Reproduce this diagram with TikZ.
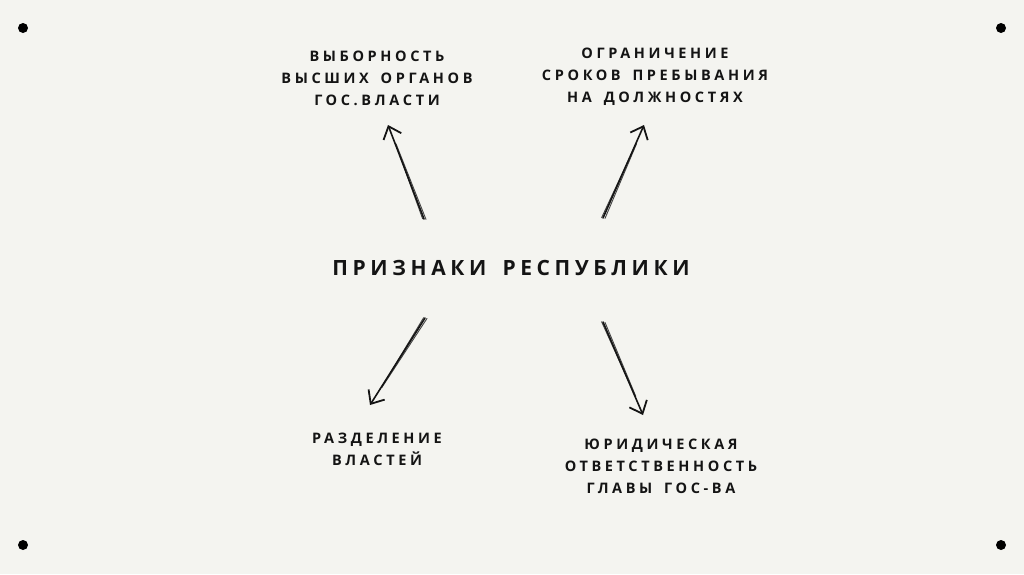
\documentclass[tikz,border=0pt]{standalone}
\usepackage{fontspec}
\setmainfont{Open Sans}
\newfontfamily\smallsp[LetterSpace=25,WordSpace=1.6]{Open Sans}
\newfontfamily\bigsp[LetterSpace=22,WordSpace=1.6]{Open Sans}
\usetikzlibrary{arrows.meta,calc}
\definecolor{bg}{HTML}{F4F4F0}
\definecolor{ink}{HTML}{141414}
\tikzset{
  lbl/.style={align=center, text=ink, font=\smallsp\bfseries\fontsize{14.5}{22}\selectfont, inner sep=0pt},
  title/.style={text=ink, font=\bigsp\bfseries\fontsize{21}{24}\selectfont, inner sep=0pt},
  shaftb/.style={draw=ink!80, line width=0.9pt, line cap=round},
  tip/.style={draw=ink, line width=1.6pt, line cap=round, -{Straight Barb[length=11pt,width=19pt,line width=1.8pt]}},
  corner/.style={circle, fill=black, inner sep=0pt, minimum size=10pt}
}
\begin{document}
\begin{tikzpicture}[x=1pt,y=-1pt]
\fill[bg] (0,0) rectangle (1024,574);
\useasboundingbox (0,0) rectangle (1024,574);
\node[corner] (c1) at (23,28) {};
\node[corner] (c2) at (1001,28) {};
\node[corner] (c3) at (23,545) {};
\node[corner] (c4) at (1001,545) {};

\node[title] (center) at (511,268) {ПРИЗНАКИ РЕСПУБЛИКИ};
\node[lbl] (tl) at (377,78) {ВЫБОРНОСТЬ\\ВЫСШИХ ОРГАНОВ\\ГОС.ВЛАСТИ};
\node[lbl] (tr) at (655,77) {ОГРАНИЧЕНИЕ\\СРОКОВ ПРЕБЫВАНИЯ\\НА ДОЛЖНОСТЯХ};
\node[lbl] (bl) at (377,449) {РАЗДЕЛЕНИЕ\\ВЛАСТЕЙ};
\node[lbl] (br) at (661,466) {ЮРИДИЧЕСКАЯ\\ОТВЕТСТВЕННОСТЬ\\ГЛАВЫ ГОС-ВА};

% arrow end points
\coordinate (a1s) at (424,219); \coordinate (a1e) at (388,125);
\coordinate (a2s) at (603,218); \coordinate (a2e) at (644,125);
\coordinate (a3s) at (425,318); \coordinate (a3e) at (370,405);
\coordinate (a4s) at (603,322); \coordinate (a4e) at (643,415);

\foreach \s/\e in {a1s/a1e,a2s/a2e,a3s/a3e,a4s/a4e}{
  \draw[shaftb] ($(\s)+(2,0.4)$) -- ($(\e)!0.2!(\s)+(0.8,0)$);
  \draw[shaftb] ($(\s)+(-1.4,-0.3)$) -- ($(\e)!0.35!(\s)$);
  \draw[tip] (\s) -- (\e);
}
\end{tikzpicture}
\end{document}
